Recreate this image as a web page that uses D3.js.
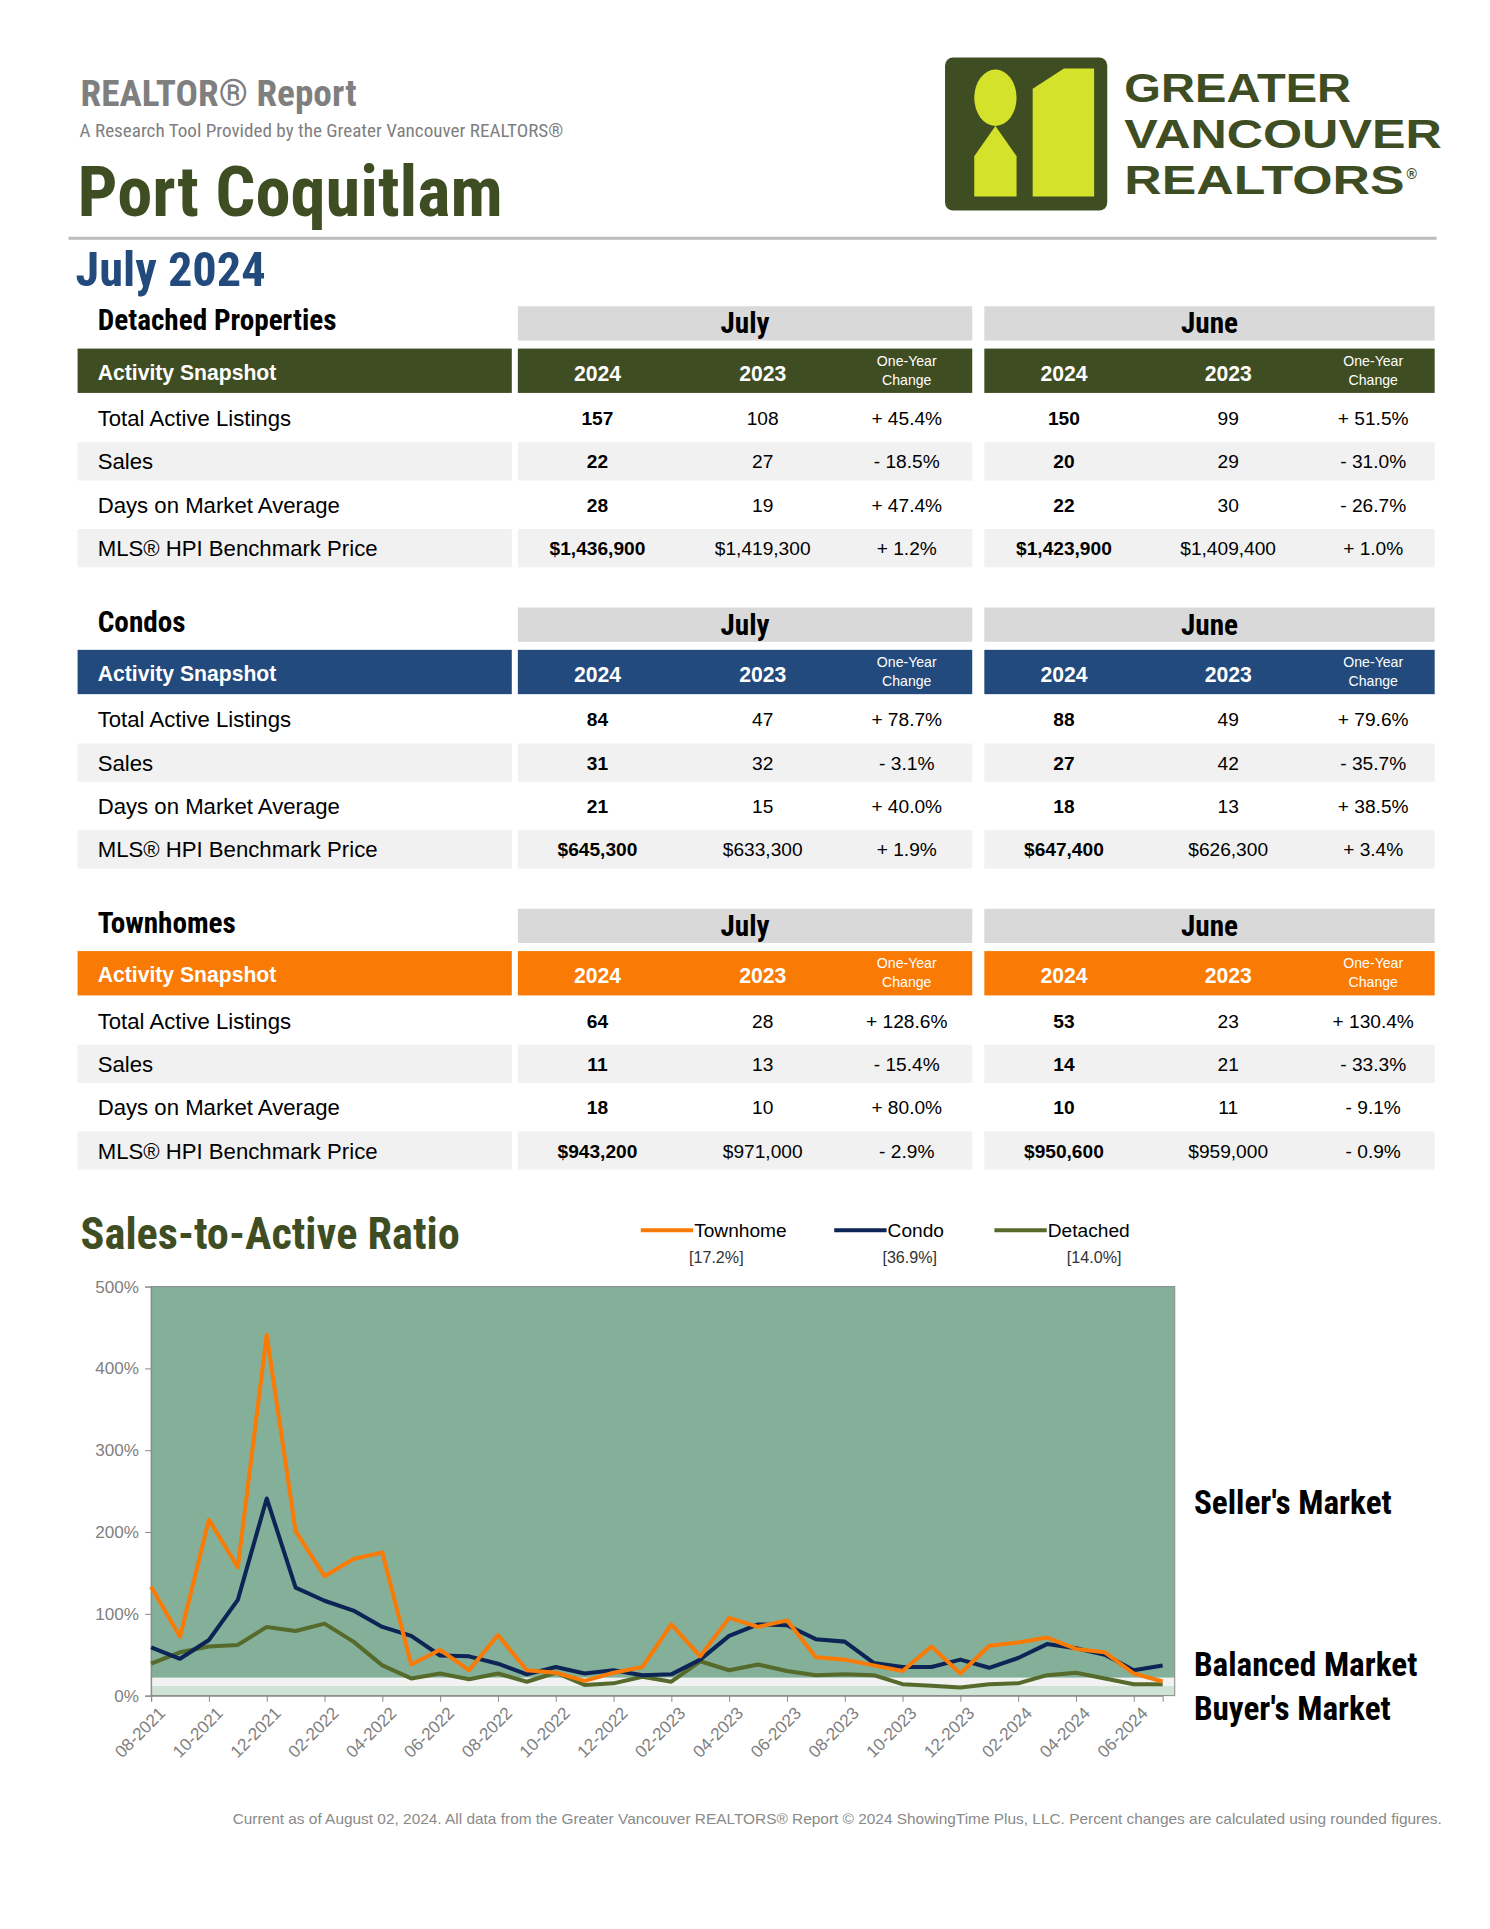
<!DOCTYPE html>
<html>
<head>
<meta charset="utf-8">
<script src="https://cdn.jsdelivr.net/npm/d3@7"></script>
<style>
  body { margin: 0; background: #fff; }
  text { font-family: "Liberation Sans", Arial, sans-serif; }
  .narrow { font-family: "Liberation Sans Narrow", "Roboto Condensed", "Liberation Sans", sans-serif; }
</style>
</head>
<body>
<svg id="page"></svg>
<script>
const W = 1490, H = 1929;

// ---- table data ----
const rowLabels = ["Total Active Listings", "Sales", "Days on Market Average", "MLS® HPI Benchmark Price"];
const detachedRows = [
  ["157", "108", "+ 45.4%", "150", "99", "+ 51.5%"],
  ["22", "27", "- 18.5%", "20", "29", "- 31.0%"],
  ["28", "19", "+ 47.4%", "22", "30", "- 26.7%"],
  ["$1,436,900", "$1,419,300", "+ 1.2%", "$1,423,900", "$1,409,400", "+ 1.0%"],
];
const condoRows = [
  ["84", "47", "+ 78.7%", "88", "49", "+ 79.6%"],
  ["31", "32", "- 3.1%", "27", "42", "- 35.7%"],
  ["21", "15", "+ 40.0%", "18", "13", "+ 38.5%"],
  ["$645,300", "$633,300", "+ 1.9%", "$647,400", "$626,300", "+ 3.4%"],
];
const townRows = [
  ["64", "28", "+ 128.6%", "53", "23", "+ 130.4%"],
  ["11", "13", "- 15.4%", "14", "21", "- 33.3%"],
  ["18", "10", "+ 80.0%", "10", "11", "- 9.1%"],
  ["$943,200", "$971,000", "- 2.9%", "$950,600", "$959,000", "- 0.9%"],
];

// ---- chart data (sales-to-active ratio, %) ----
const months = ["08-2021","09-2021","10-2021","11-2021","12-2021","01-2022","02-2022","03-2022","04-2022","05-2022","06-2022","07-2022",
  "08-2022","09-2022","10-2022","11-2022","12-2022","01-2023","02-2023","03-2023","04-2023","05-2023","06-2023","07-2023",
  "08-2023","09-2023","10-2023","11-2023","12-2023","01-2024","02-2024","03-2024","04-2024","05-2024","06-2024","07-2024"];
const townhome = [133,72,215,157,441,201,146,167,175,38,56,31,74,31,28,18,28,35,87,48,95,84,92,47,44,37,30,60,27,61,65,71,57,53,27,17.2];
const condo = [59,45,68,117,241,132,116,104,84,73,49,48,39,26,35,27,31,25,26,44,73,87,86,69,66,40,35,35,44,34,46,63,58,50,31,36.9];
const detached = [39,53,60,62,84,79,88,66,37,21,27,20,27,17,28,13,15,23,17,42,31,38,30,25,26,25,14,12,10,14,15,25,28,21,14,14.0];
const yTicks = [0, 100, 200, 300, 400, 500];
const bands = [ {from: 0, to: 12, color: "#cfe2d6"}, {from: 12, to: 22, color: "#f2f2f2"}, {from: 22, to: 500, color: "#84b09a"} ];

const svg = d3.select("#page").attr("width", W).attr("height", H)
  .append("g").attr("transform", "scale(1.0075)");

// ---- header ----
svg.append("text").attr("class", "narrow").attr("x", 80).attr("y", 105).attr("font-size", 37)
  .attr("font-weight", "bold").attr("fill", "#7f7f7f").text("REALTOR® Report");
svg.append("text").attr("class", "narrow").attr("x", 79).attr("y", 136).attr("font-size", 19)
  .attr("fill", "#7f7f7f").text("A Research Tool Provided by the Greater Vancouver REALTORS®");
svg.append("text").attr("class", "narrow").attr("x", 77).attr("y", 214).attr("font-size", 70)
  .attr("font-weight", "bold").attr("fill", "#3f4d22").text("Port Coquitlam");
svg.append("rect").attr("x", 68).attr("y", 235).attr("width", 1358).attr("height", 3).attr("fill", "#bdbdbd");
svg.append("text").attr("class", "narrow").attr("x", 75).attr("y", 284).attr("font-size", 48)
  .attr("font-weight", "bold").attr("fill", "#224a7c").text("July 2024");

// logo
const logo = svg.append("g");
logo.append("rect").attr("x", 938).attr("y", 57).attr("width", 161).attr("height", 152).attr("rx", 8).attr("fill", "#3f4d22");
logo.append("ellipse").attr("cx", 988).attr("cy", 97).attr("rx", 21).attr("ry", 28).attr("fill", "#d4e22b");
logo.append("path").attr("d", "M988 125 L1009 155 L1009 195 L967 195 L967 155 Z").attr("fill", "#d4e22b");
logo.append("path").attr("d", "M1025 88 L1056 68 L1086 68 L1086 195 L1025 195 Z").attr("fill", "#d4e22b");
["GREATER", "VANCOUVER", "REALTORS"].forEach((t, i) => {
  logo.append("text").attr("x", 1116).attr("y", 101 + i * 46).attr("font-size", 40).attr("font-weight", "bold")
    .attr("fill", "#3f4d22").attr("textLength", [225, 315, 278][i]).attr("lengthAdjust", "spacingAndGlyphs").text(t);
});
logo.append("text").attr("x", 1396).attr("y", 178).attr("font-size", 14).attr("font-weight", "bold").attr("fill", "#3f4d22").text("®");

// ---- tables ----
const colX = [593, 757, 900, 1056, 1219, 1363];
function drawTable(top, title, color, rows) {
  const g = svg.append("g").attr("transform", `translate(0,${top})`);
  g.append("text").attr("class", "narrow").attr("x", 97).attr("y", 24).attr("font-size", 29).attr("font-weight", "bold").text(title);
  [["July", 514, 965], ["June", 977, 1424]].forEach(([m, x0, x1]) => {
    g.append("rect").attr("x", x0).attr("y", 0).attr("width", x1 - x0).attr("height", 34).attr("fill", "#d9d9d9");
    g.append("text").attr("class", "narrow").attr("x", (x0 + x1) / 2).attr("y", 27).attr("text-anchor", "middle")
      .attr("font-size", 29).attr("font-weight", "bold").text(m);
  });
  [[77, 508], [514, 965], [977, 1424]].forEach(([x0, x1]) =>
    g.append("rect").attr("x", x0).attr("y", 42).attr("width", x1 - x0).attr("height", 44).attr("fill", color));
  g.append("text").attr("x", 97).attr("y", 73).attr("font-size", 21).attr("font-weight", "bold").attr("fill", "#fff").text("Activity Snapshot");
  colX.forEach((x, i) => {
    if (i % 3 === 2) {
      g.append("text").attr("x", x).attr("y", 59).attr("text-anchor", "middle").attr("font-size", 14).attr("fill", "#fff").text("One-Year");
      g.append("text").attr("x", x).attr("y", 78).attr("text-anchor", "middle").attr("font-size", 14).attr("fill", "#fff").text("Change");
    } else {
      g.append("text").attr("x", x).attr("y", 74).attr("text-anchor", "middle").attr("font-size", 21).attr("font-weight", "bold")
        .attr("fill", "#fff").text(i % 3 === 0 ? "2024" : "2023");
    }
  });
  rows.forEach((r, ri) => {
    const cy = 111 + ri * 43;
    if (ri % 2 === 1) {
      [[77, 508], [514, 965], [977, 1424]].forEach(([x0, x1]) =>
        g.append("rect").attr("x", x0).attr("y", cy - 19).attr("width", x1 - x0).attr("height", 38).attr("fill", "#f1f1f1"));
    }
    g.append("text").attr("x", 97).attr("y", cy + 8).attr("font-size", 22).text(rowLabels[ri]);
    r.forEach((v, ci) => {
      g.append("text").attr("x", colX[ci]).attr("y", cy + 7).attr("text-anchor", "middle").attr("font-size", 19)
        .attr("font-weight", ci % 3 === 0 ? "bold" : "normal").text(v);
    });
  });
}
drawTable(304, "Detached Properties", "#3f4d22", detachedRows);
drawTable(603, "Condos", "#224a7c", condoRows);
drawTable(902, "Townhomes", "#f97a05", townRows);

// ---- chart ----
const plot = { left: 150, right: 1166, top: 1277, bottom: 1683 };
svg.append("text").attr("class", "narrow").attr("x", 80).attr("y", 1240).attr("font-size", 44).attr("font-weight", "bold")
  .attr("fill", "#3f4d22").text("Sales-to-Active Ratio");

const x = d3.scalePoint().domain(months).range([plot.left, plot.right - 12]);
const y = d3.scaleLinear().domain([0, 500]).range([plot.bottom, plot.top]);

bands.forEach(b => svg.append("rect").attr("x", plot.left).attr("width", plot.right - plot.left)
  .attr("y", y(b.to)).attr("height", y(b.from) - y(b.to)).attr("fill", b.color));
svg.append("rect").attr("x", plot.left).attr("y", plot.top).attr("width", plot.right - plot.left)
  .attr("height", plot.bottom - plot.top).attr("fill", "none").attr("stroke", "#8a8a8a");

const yAxis = svg.append("g").attr("transform", `translate(${plot.left},0)`)
  .call(d3.axisLeft(y).tickValues(yTicks).tickFormat(d => d + "%").tickSize(6));
yAxis.selectAll("text").attr("font-size", 17).attr("fill", "#7f7f7f").attr("x", -12);
yAxis.selectAll("line, path").attr("stroke", "#8a8a8a");

const xAxis = svg.append("g").attr("transform", `translate(0,${plot.bottom})`)
  .call(d3.axisBottom(x).tickValues(months.filter((m, i) => i % 2 === 0)).tickSize(6));
xAxis.select(".domain").attr("stroke", "#8a8a8a");
xAxis.selectAll("line").attr("stroke", "#8a8a8a");
xAxis.selectAll("text").attr("font-size", 17).attr("fill", "#7f7f7f").attr("text-anchor", "end")
  .attr("transform", "translate(4,8) rotate(-45)").attr("dy", "0.35em").attr("dx", 0);

const series = [
  { name: "Townhome", values: townhome, color: "#f97a05", last: "[17.2%]", lx: 636 },
  { name: "Condo", values: condo, color: "#0d2456", last: "[36.9%]", lx: 828 },
  { name: "Detached", values: detached, color: "#566a2b", last: "[14.0%]", lx: 987 },
];
const line = d3.line().x((d, i) => x(months[i])).y(d => y(d));
series.slice().reverse().forEach(s => svg.append("path").datum(s.values).attr("d", line)
  .attr("fill", "none").attr("stroke", s.color).attr("stroke-width", 4).attr("stroke-linejoin", "round"));

series.forEach(s => {
  svg.append("line").attr("x1", s.lx).attr("x2", s.lx + 52).attr("y1", 1221).attr("y2", 1221)
    .attr("stroke", s.color).attr("stroke-width", 4);
  svg.append("text").attr("x", s.lx + 53).attr("y", 1228).attr("font-size", 19).text(s.name);
  svg.append("text").attr("x", s.lx + 75 + (s.name === "Detached" ? 24 : 0)).attr("y", 1254).attr("font-size", 16)
    .attr("text-anchor", "middle").attr("fill", "#333").text(s.last);
});

[["Seller's Market", 1503], ["Balanced Market", 1664], ["Buyer's Market", 1707]].forEach(([t, yy]) =>
  svg.append("text").attr("class", "narrow").attr("x", 1185).attr("y", yy).attr("font-size", 33).attr("font-weight", "bold").text(t));

svg.append("text").attr("x", 1431).attr("y", 1810).attr("text-anchor", "end").attr("font-size", 15.3).attr("fill", "#8a8a8a")
  .text("Current as of August 02, 2024. All data from the Greater Vancouver REALTORS® Report © 2024 ShowingTime Plus, LLC. Percent changes are calculated using rounded figures.");
</script>
</body>
</html>
